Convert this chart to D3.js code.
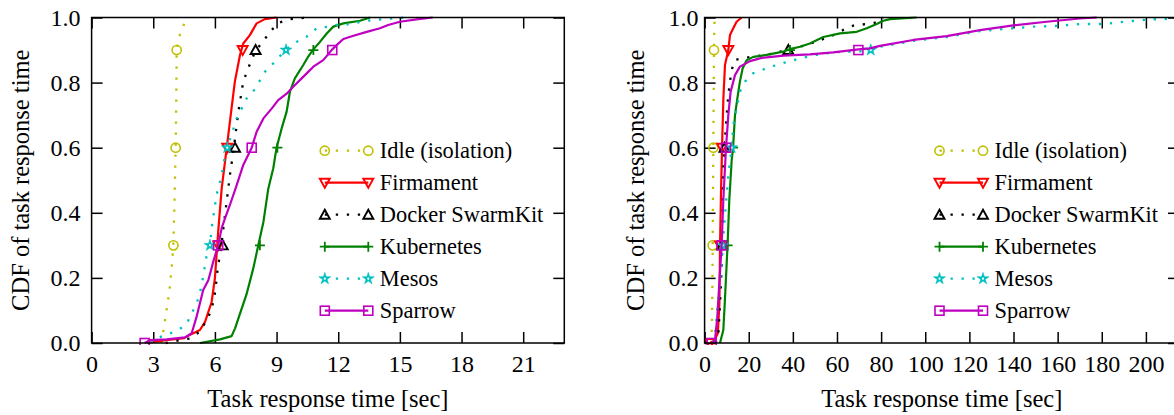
<!DOCTYPE html>
<html><head><meta charset="utf-8">
<script src="https://cdn.jsdelivr.net/npm/d3@7"></script>
<style>
body{margin:0;background:#fff}
svg{display:block}
</style>
</head><body>
<svg id="chart" width="1174" height="415" font-family="'Liberation Serif', 'DejaVu Serif', serif"></svg>
<script>
// ---------------- DATA ----------------
const seriesNames = ["Idle (isolation)", "Firmament", "Docker SwarmKit", "Kubernetes", "Mesos", "Sparrow"];
const yTicks = [0, 0.2, 0.4, 0.6, 0.8, 1.0];
const leftXTicks = [0, 3, 6, 9, 12, 15, 18, 21];
const rightXTicks = [0, 20, 40, 60, 80, 100, 120, 140, 160, 180, 200];
const xTitle = "Task response time [sec]";
const yTitle = "CDF of task response time";

// Left panel: [seconds, CDF]
const leftIdle = [[3.40,0.00],[3.45,0.02],[3.52,0.05],[3.62,0.09],[3.72,0.13],[3.82,0.18],[3.92,0.25],[3.98,0.30],[4.04,0.45],[4.09,0.60],[4.12,0.75],[4.14,0.90],[4.25,0.94],[4.46,0.97],[4.55,1.00]];
const leftFirmament = [[2.70,0.000],[3.50,0.008],[4.50,0.015],[4.79,0.025],[5.27,0.040],[5.52,0.065],[5.84,0.126],[6.00,0.199],[6.08,0.270],[6.16,0.342],[6.33,0.475],[6.57,0.597],[6.73,0.680],[6.97,0.803],[7.22,0.885],[7.38,0.920],[7.70,0.946],[8.03,0.982],[8.43,0.995],[9.00,1.000]];
const leftDocker = [[3.60,0.000],[4.25,0.008],[4.79,0.014],[5.27,0.035],[5.52,0.062],[5.76,0.091],[5.92,0.125],[6.02,0.160],[6.12,0.220],[6.33,0.310],[6.49,0.393],[6.73,0.516],[6.90,0.590],[7.14,0.710],[7.38,0.803],[7.62,0.844],[7.95,0.895],[8.43,0.934],[8.76,0.962],[9.16,0.985],[9.65,0.995],[10.50,1.000]];
const leftKubernetes = [[5.27,0.000],[6.25,0.011],[6.81,0.021],[6.98,0.045],[7.22,0.090],[7.54,0.150],[7.87,0.230],[8.11,0.300],[8.36,0.372],[8.60,0.475],[8.84,0.537],[9.00,0.600],[9.25,0.660],[9.49,0.711],[9.65,0.772],[9.89,0.813],[10.30,0.854],[10.54,0.880],[10.79,0.902],[11.11,0.925],[11.44,0.951],[11.76,0.972],[12.25,0.982],[13.06,0.990],[13.55,1.000]];
const leftMesos = [[2.90,0.000],[3.00,0.011],[3.65,0.025],[4.22,0.040],[4.62,0.058],[4.87,0.091],[5.11,0.122],[5.27,0.153],[5.43,0.205],[5.60,0.270],[5.76,0.300],[5.84,0.353],[6.08,0.455],[6.33,0.516],[6.49,0.578],[6.60,0.600],[6.81,0.640],[7.06,0.690],[7.30,0.720],[7.54,0.751],[7.95,0.780],[8.43,0.833],[8.84,0.859],[9.46,0.902],[9.97,0.925],[10.46,0.941],[10.95,0.967],[11.52,0.972],[12.08,0.979],[12.57,0.979],[13.14,0.987],[13.63,0.992],[14.20,0.995],[15.33,1.000]];
const leftSparrow = [[2.58,0.000],[2.85,0.009],[3.65,0.011],[4.54,0.017],[4.87,0.030],[5.11,0.081],[5.27,0.122],[5.43,0.163],[5.68,0.193],[5.92,0.250],[6.16,0.300],[6.33,0.353],[6.49,0.383],[6.73,0.424],[7.06,0.485],[7.38,0.547],[7.79,0.600],[8.03,0.649],[8.36,0.690],[8.76,0.720],[9.08,0.746],[9.49,0.766],[9.81,0.787],[10.22,0.813],[10.54,0.833],[10.79,0.849],[11.27,0.869],[11.71,0.902],[11.92,0.915],[12.25,0.934],[12.74,0.944],[13.39,0.956],[14.03,0.967],[14.43,0.977],[15.00,0.987],[15.90,0.995],[16.60,1.000]];

const leftIdleMarks = [[3.98,0.3],[4.09,0.6],[4.14,0.9]];
const leftFirmamentMarks = [[6.16,0.3],[6.60,0.6],[7.35,0.9]];
const leftDockerMarks = [[6.38,0.3],[6.98,0.6],[7.98,0.9]];
const leftKubernetesMarks = [[8.19,0.3],[9.04,0.6],[10.79,0.9]];
const leftMesosMarks = [[5.76,0.3],[6.60,0.6],[9.46,0.9]];
const leftSparrowMarks = [[2.58,0.0],[6.16,0.3],[7.79,0.6],[11.71,0.9]];

// Right panel: [seconds, CDF]
const rightIdle = [[3.00,0.00],[3.30,0.05],[3.50,0.15],[3.66,0.30],[3.80,0.45],[3.96,0.60],[4.10,0.75],[4.26,0.90],[4.40,0.97],[4.60,1.00]];
const rightFirmament = [[2.50,0.000],[4.50,0.008],[6.00,0.030],[6.70,0.120],[7.00,0.300],[7.40,0.450],[7.90,0.600],[8.50,0.750],[9.24,0.854],[10.75,0.900],[11.50,0.946],[13.00,0.967],[14.50,0.987],[16.80,1.000]];
const rightDocker = [[5.00,0.000],[6.22,0.024],[6.98,0.117],[7.73,0.230],[8.19,0.393],[8.60,0.550],[9.00,0.600],[10.00,0.700],[10.75,0.762],[11.51,0.803],[12.26,0.839],[13.77,0.870],[17.55,0.875],[22.08,0.880],[28.10,0.885],[34.20,0.895],[37.95,0.900],[43.20,0.910],[50.80,0.926],[58.30,0.946],[62.90,0.962],[67.40,0.975],[73.50,0.980],[78.00,0.985],[81.00,1.000]];
const rightKubernetes = [[6.98,0.000],[8.49,0.040],[9.24,0.137],[10.40,0.300],[11.20,0.440],[12.26,0.560],[12.90,0.600],[13.77,0.700],[14.83,0.751],[16.00,0.803],[17.25,0.844],[19.06,0.869],[22.08,0.879],[28.10,0.885],[35.70,0.895],[38.70,0.903],[43.20,0.910],[47.70,0.920],[53.80,0.940],[61.40,0.951],[68.90,0.956],[73.50,0.967],[78.00,0.980],[81.00,0.990],[84.10,0.995],[96.10,1.000]];
const rightMesos = [[4.00,0.000],[4.70,0.024],[6.22,0.137],[7.73,0.240],[8.20,0.300],[9.24,0.393],[10.75,0.516],[12.26,0.600],[13.00,0.670],[14.50,0.720],[16.00,0.772],[18.30,0.803],[22.08,0.829],[28.10,0.844],[34.90,0.859],[43.20,0.874],[50.80,0.885],[58.30,0.893],[65.90,0.895],[75.30,0.897],[79.50,0.910],[94.60,0.928],[109.70,0.940],[124.80,0.958],[139.90,0.967],[149.00,0.972],[159.60,0.974],[170.10,0.980],[181.40,0.980],[191.60,0.988],[201.50,0.994],[211.70,0.996],[215.00,0.997]];
const rightSparrow = [[3.20,0.000],[4.70,0.008],[5.77,0.080],[6.67,0.184],[7.73,0.300],[8.49,0.440],[9.70,0.600],[10.75,0.700],[11.80,0.772],[13.77,0.823],[16.00,0.849],[20.60,0.866],[25.90,0.876],[35.70,0.883],[47.70,0.887],[58.30,0.893],[69.70,0.902],[74.90,0.905],[79.50,0.913],[94.60,0.931],[109.70,0.943],[124.80,0.961],[139.90,0.976],[155.00,0.987],[170.10,0.997],[177.70,1.000]];

const rightIdleMarks = [[3.66,0.3],[3.96,0.6],[4.26,0.9]];
const rightFirmamentMarks = [[2.50,0.0],[7.00,0.3],[7.90,0.6],[10.75,0.9]];
const rightDockerMarks = [[7.90,0.3],[9.00,0.6],[37.95,0.9]];
const rightKubernetesMarks = [[10.40,0.3],[12.90,0.6],[38.70,0.9]];
const rightMesosMarks = [[8.20,0.3],[12.26,0.6],[75.30,0.9]];
const rightSparrowMarks = [[3.20,0.0],[7.73,0.3],[9.70,0.6],[69.70,0.9]];

// ---------------- STYLE ----------------
const FONT = "'Liberation Serif', 'DejaVu Serif', serif";
const styles = [
  {color:"#c0c000", dotted:true,  marker:"circle"},
  {color:"#ff0000", dotted:false, marker:"tridown"},
  {color:"#000000", dotted:true,  marker:"triup"},
  {color:"#008000", dotted:false, marker:"plus"},
  {color:"#00c0c0", dotted:true,  marker:"star"},
  {color:"#c000c0", dotted:false, marker:"square"}
];

const panels = [
  {id:"L", left:91.6, right:564.3, xMax:23, xTicks:leftXTicks, yLabGap:11, yTitleX:28.5,
   lines:[leftIdle,leftFirmament,leftDocker,leftKubernetes,leftMesos,leftSparrow],
   marks:[leftIdleMarks,leftFirmamentMarks,leftDockerMarks,leftKubernetesMarks,leftMesosMarks,leftSparrowMarks]},
  {id:"R", left:704.6, right:1179.0, xMax:215, xTicks:rightXTicks, yLabGap:6, yTitleX:643.5,
   lines:[rightIdle,rightFirmament,rightDocker,rightKubernetes,rightMesos,rightSparrow],
   marks:[rightIdleMarks,rightFirmamentMarks,rightDockerMarks,rightKubernetesMarks,rightMesosMarks,rightSparrowMarks]}
];
const TOP = 17.5, BOTTOM = 343, TICK = 11;
const TICKFS = 24, TITLEFS = 24.5, LEGFS = 22.4;

const svg = d3.select("#chart");

function drawMarker(g, type, cx, cy, color) {
  const sw = 1.6;
  if (type === "circle") {
    g.append("circle").attr("cx",cx).attr("cy",cy).attr("r",4.6)
      .attr("fill","none").attr("stroke",color).attr("stroke-width",sw);
  } else if (type === "tridown") {
    g.append("path").attr("d",`M${cx-5},${cy-4}L${cx+5},${cy-4}L${cx},${cy+5}Z`)
      .attr("fill","none").attr("stroke",color).attr("stroke-width",sw+0.3);
  } else if (type === "triup") {
    g.append("path").attr("d",`M${cx-5},${cy+4}L${cx+5},${cy+4}L${cx},${cy-5}Z`)
      .attr("fill","none").attr("stroke",color).attr("stroke-width",sw+0.3);
  } else if (type === "plus") {
    g.append("path").attr("d",`M${cx-5},${cy}L${cx+5},${cy}M${cx},${cy-5}L${cx},${cy+5}`)
      .attr("fill","none").attr("stroke",color).attr("stroke-width",sw+0.2);
  } else if (type === "square") {
    g.append("rect").attr("x",cx-4.5).attr("y",cy-4.5).attr("width",9).attr("height",9)
      .attr("fill","none").attr("stroke",color).attr("stroke-width",sw);
  } else if (type === "star") {
    g.append("path").attr("d", d3.symbol(d3.symbolStar, 44)()).attr("transform",`translate(${cx},${cy})`)
      .attr("fill",color).attr("stroke",color).attr("stroke-width",0.6);
    g.append("circle").attr("cx",cx).attr("cy",cy).attr("r",1.1).attr("fill","#fff");
  }
}

function styleText(sel, size) {
  sel.attr("font-family", FONT).style("font-family", FONT).attr("font-size", size).style("font-size", size + "px").attr("fill", "#000");
}

panels.forEach(p => {
  const x = d3.scaleLinear().domain([0, p.xMax]).range([p.left, p.right]);
  const y = d3.scaleLinear().domain([0, 1]).range([BOTTOM, TOP]);
  const g = svg.append("g");

  const clipId = "clip" + p.id;
  svg.append("defs").append("clipPath").attr("id", clipId)
    .append("rect").attr("x", p.left).attr("y", TOP - 2).attr("width", p.right - p.left).attr("height", BOTTOM - TOP + 4);

  // axes
  const ax = g.append("g").attr("transform",`translate(0,${BOTTOM})`)
    .call(d3.axisBottom(x).tickValues(p.xTicks).tickSize(-TICK).tickSizeOuter(0).tickFormat(d3.format("d")));
  ax.selectAll("text").attr("y", 28.7).attr("dy", 0);
  const axT = g.append("g").attr("transform",`translate(0,${TOP})`)
    .call(d3.axisTop(x).tickValues(p.xTicks).tickSize(-TICK).tickSizeOuter(0).tickFormat(""));
  const ay = g.append("g").attr("transform",`translate(${p.left},0)`)
    .call(d3.axisLeft(y).tickValues(yTicks).tickSize(-TICK).tickSizeOuter(0).tickFormat(d3.format(".1f")));
  ay.selectAll("text").attr("x", -p.yLabGap).attr("dy", "0.32em");
  const ayR = g.append("g").attr("transform",`translate(${p.right},0)`)
    .call(d3.axisRight(y).tickValues(yTicks).tickSize(-TICK).tickSizeOuter(0).tickFormat(""));
  [ax, axT, ay, ayR].forEach(a => {
    a.attr("font-family", null).attr("font-size", null);
    a.select(".domain").remove();
    a.selectAll("line").attr("stroke","#000").attr("stroke-width",1.5);
    styleText(a.selectAll("text"), TICKFS);
  });

  // curves
  const line = d3.line().x(d => x(d[0])).y(d => y(d[1]));
  const cg = g.append("g").attr("clip-path", `url(#${clipId})`);
  p.lines.forEach((data, i) => {
    const s = styles[i];
    const path = cg.append("path").datum(data).attr("d", line)
      .attr("fill","none").attr("stroke", s.color).attr("stroke-width", s.dotted ? 2.3 : 2.2)
      .attr("stroke-linejoin","round");
    if (s.dotted) path.attr("stroke-dasharray","2.3 8.7");
    p.marks[i].forEach(m => drawMarker(cg, s.marker, x(m[0]), y(m[1]), s.color));
  });

  // frame
  g.append("rect").attr("x", p.left).attr("y", TOP).attr("width", p.right - p.left).attr("height", BOTTOM - TOP)
    .attr("fill","none").attr("stroke","#000").attr("stroke-width",1.5);

  // legend
  const lx1 = p.right - 239.5, lx2 = p.right - 196, tx = p.right - 184.5;
  seriesNames.forEach((name, i) => {
    const s = styles[i];
    const ly = 150.7 + 32 * i;
    const l = g.append("line").attr("x1", lx1).attr("x2", lx2).attr("y1", ly).attr("y2", ly)
      .attr("stroke", s.color).attr("stroke-width", s.dotted ? 2.3 : 2.2);
    if (s.dotted) l.attr("stroke-dasharray","2.3 8.7");
    drawMarker(g, s.marker, lx1, ly, s.color);
    drawMarker(g, s.marker, lx2, ly, s.color);
    styleText(g.append("text").attr("x", tx).attr("y", ly + 7.5).text(name), LEGFS);
  });

  // titles
  styleText(g.append("text").attr("x", (p.left + p.right) / 2).attr("y", 406.5).attr("text-anchor","middle").text(xTitle), TITLEFS);
  styleText(g.append("text").attr("transform", `translate(${p.yTitleX},${(TOP + BOTTOM) / 2}) rotate(-90)`)
    .attr("text-anchor","middle").text(yTitle), TITLEFS);
});
</script>
</body></html>
